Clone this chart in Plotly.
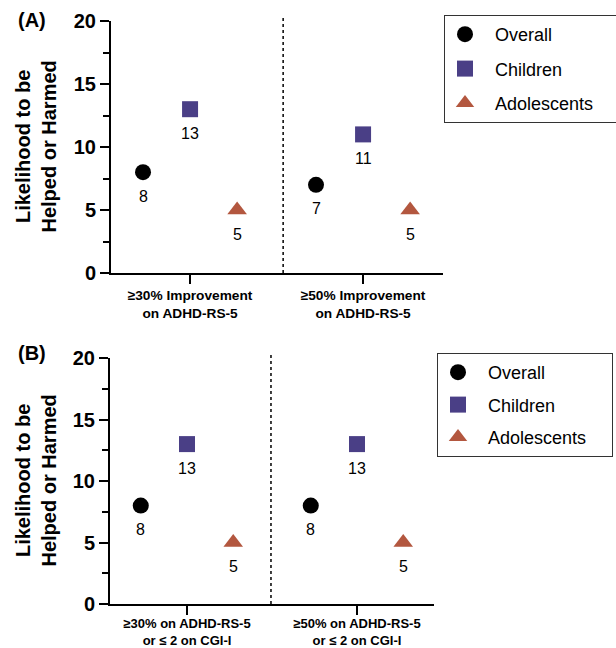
import plotly.graph_objects as go

# ---------------- data ----------------
series = ["Overall", "Children", "Adolescents"]
colors = {"Overall": "#000000", "Children": "#4A3F86", "Adolescents": "#B3573F"}
symbols = {"Overall": "circle", "Children": "square", "Adolescents": "triangle-up"}
sizes = {"Overall": 16, "Children": 16, "Adolescents": 17}

cats_A = ["≥30% Improvement<br>on ADHD-RS-5", "≥50% Improvement<br>on ADHD-RS-5"]
vals_A = {"Overall": [8, 7], "Children": [13, 11], "Adolescents": [5, 5]}

cats_B = ["≥30% on ADHD-RS-5<br>or ≤ 2 on CGI-I", "≥50% on ADHD-RS-5<br>or ≤ 2 on CGI-I"]
vals_B = {"Overall": [8, 8], "Children": [13, 13], "Adolescents": [5, 5]}

y_ticks = [0, 5, 10, 15, 20]

# ---------------- layout helpers ----------------
W, H = 616, 648
dodge = {"Overall": -0.272, "Children": 0.0, "Adolescents": 0.272}
FONT = "Arial, Liberation Sans, Helvetica, sans-serif"
NB = "\u00a0\u00a0"
TAIL = {"Overall": "", "Children": "", "Adolescents": "\u00a0" * 4}

fig = go.Figure()

panels = [
    dict(cats=cats_A, vals=vals_A, xa="x", ya="y", legend="legend",
         sep=0.538, xrange=[-0.457, 1.462]),
    dict(cats=cats_B, vals=vals_B, xa="x2", ya="y2", legend="legend2",
         sep=0.494, xrange=[-0.453, 1.453]),
]

annotations = []
shapes = []
for p in panels:
    for s in series:
        xs = [i + dodge[s] for i in range(len(p["cats"]))]
        fig.add_trace(go.Scatter(
            x=xs, y=p["vals"][s], mode="markers", name=NB + s + TAIL[s],
            xaxis=p["xa"], yaxis=p["ya"], legend=p["legend"],
            legendgroup=s + p["legend"],
            marker=dict(symbol=symbols[s], color=colors[s], size=sizes[s],
                        line=dict(width=0)),
            cliponaxis=False,
        ))
        for x, v in zip(xs, p["vals"][s]):
            annotations.append(dict(
                x=x, y=v, xref=p["xa"], yref=p["ya"], text=str(v),
                showarrow=False, yshift=-24,
                font=dict(family=FONT, size=16, color="#000")))
    shapes.append(dict(
        type="line", xref=p["xa"], yref=p["ya"] + " domain",
        x0=p["sep"], x1=p["sep"], y0=0, y1=1.012,
        line=dict(color="#000", width=1.5, dash="dot")))

axis_common_y = dict(
    range=[0, 20], tickvals=y_ticks, ticks="outside", ticklen=9, tickwidth=2,
    tickcolor="#000", showline=True, linecolor="#000", linewidth=2,
    showgrid=False, zeroline=False, automargin=False,
    tickfont=dict(family=FONT, size=20, color="#000", weight="bold"),
    minor=dict(dtick=2.5, ticks="outside", ticklen=6, tickwidth=2,
               tickcolor="#000", showgrid=False),
)
axis_common_x = dict(
    tickvals=[0, 1], ticks="outside", ticklen=9, tickwidth=2, tickcolor="#000",
    showline=True, linecolor="#000", linewidth=2, showgrid=False,
    zeroline=False, automargin=False,
)

legend_common = dict(
    xanchor="left", yanchor="top", bordercolor="#333", borderwidth=1,
    bgcolor="white", font=dict(family=FONT, size=18, color="#000"),
    traceorder="grouped",
)

fig.update_layout(
    width=W, height=H, margin=dict(l=0, r=0, t=0, b=0, autoexpand=False),
    paper_bgcolor="white", plot_bgcolor="white", font=dict(family=FONT),
    xaxis=dict(domain=[111 / W, 443 / W], anchor="y", range=panels[0]["xrange"],
               ticktext=cats_A,
               tickfont=dict(family=FONT, size=13.7, color="#000", weight="bold"),
               **axis_common_x),
    yaxis=dict(domain=[1 - 273 / H, 1 - 21 / H], anchor="x", **axis_common_y),
    xaxis2=dict(domain=[110 / W, 434 / W], anchor="y2", range=panels[1]["xrange"],
                ticktext=cats_B, ticklabelstandoff=-3,
                tickfont=dict(family=FONT, size=13, color="#000", weight="bold"),
                **axis_common_x),
    yaxis2=dict(domain=[1 - 604 / H, 1 - 358 / H], anchor="x2", **axis_common_y),
    legend=dict(x=444 / W, y=1 - 15 / H, tracegroupgap=8, **legend_common),
    legend2=dict(x=437 / W, y=1 - 353 / H, tracegroupgap=6, **legend_common),
    shapes=shapes,
    showlegend=True,
)

# panel letters and y-axis titles
for label, yc, ymid in [("(A)", 20, (21 + 273) / 2), ("(B)", 353, (358 + 604) / 2)]:
    annotations.append(dict(x=32 / W, y=1 - yc / H, xref="paper", yref="paper",
                            xanchor="center", yanchor="middle",
                            text="<b>%s</b>" % label, showarrow=False,
                            font=dict(family=FONT, size=20, color="#000")))
    annotations.append(dict(x=35.5 / W, y=1 - ymid / H, xref="paper", yref="paper",
                            xanchor="center", yanchor="middle",
                            text="<b>Likelihood to be<br>Helped or Harmed</b>",
                            textangle=-90, showarrow=False,
                            font=dict(family=FONT, size=20, color="#000")))

fig.update_layout(annotations=annotations)
fig.write_html("out.html")
